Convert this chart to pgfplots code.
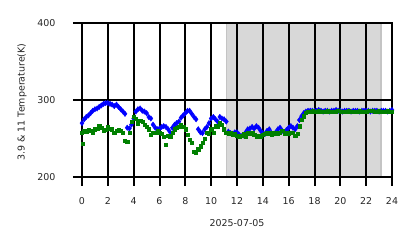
\documentclass[border=0pt]{standalone}
\usepackage{fontspec}
\setmainfont{DejaVu Sans}
\usepackage{pgfplots}
\usepackage{pgfplotstable}
\pgfplotsset{compat=1.18}
\definecolor{mgreen}{RGB}{0,128,0}
\definecolor{shade}{RGB}{216,216,216}
\definecolor{shadeedge}{RGB}{196,196,196}
\pgfplotstableread{
h T
0.0 270
0.17 275
0.33 278
0.5 280
0.67 283
0.83 286
1.0 288
1.17 289
1.33 291
1.5 293
1.67 295
1.83 296
2.0 296
2.17 295
2.33 294
2.5 292
2.67 294
2.83 291
3.0 288
3.17 285
3.33 282
3.5 264
3.67 263
3.83 268
4.0 276
4.17 285
4.33 288
4.5 289
4.67 286
4.83 285
5.0 283
5.17 278
5.33 276
5.5 268
5.67 264
5.83 262
6.0 263
6.17 265
6.33 266
6.5 265
6.67 262
6.83 258
7.0 264
7.17 268
7.33 270
7.5 272
7.67 277
7.83 280
8.0 283
8.17 286
8.33 286
8.5 282
8.67 278
8.83 275
9.0 262
9.17 258
9.33 257
9.5 262
9.67 265
9.83 270
10.0 276
10.17 278
10.33 275
10.5 272
10.67 278
10.83 276
11.0 275
11.17 272
11.33 259
11.5 257
11.67 256
11.83 258
12.0 258
12.17 255
12.33 253
12.5 254
12.67 258
12.83 262
13.0 263
13.17 265
13.33 263
13.5 266
13.67 264
13.83 260
14.0 257
14.17 256
14.33 260
14.5 262
14.67 257
14.83 256
15.0 258
15.17 262
15.33 264
15.5 260
15.67 258
15.83 261
16.0 264
16.17 266
16.33 264
16.5 262
16.67 266
16.83 274
17.0 279
17.17 283
17.33 285
17.5 286
17.67 286
17.83 286
18.0 286
18.17 286
18.33 287
18.5 286
18.67 285
18.83 286
19.0 286
19.17 285
19.33 286
19.5 286
19.67 287
19.83 286
20.0 286
20.17 285
20.33 286
20.5 286
20.67 286
20.83 285
21.0 286
21.17 286
21.33 286
21.5 285
21.67 286
21.83 286
22.0 286
22.17 286
22.33 285
22.5 286
22.67 286
22.83 286
23.0 285
23.17 286
23.33 286
23.5 286
23.67 285
23.83 286
24.0 287
}\bluedata
\pgfplotstableread{
h T
0.0 258
0.03 243
0.17 260
0.33 259
0.5 261
0.67 260
0.83 258
1.0 262
1.17 263
1.33 266
1.5 264
1.67 260
1.83 261
2.0 265
2.17 263
2.33 262
2.5 258
2.67 260
2.83 261
3.0 260
3.17 258
3.33 247
3.5 246
3.67 258
3.83 272
4.0 278
4.17 276
4.33 270
4.5 273
4.67 272
4.83 268
5.0 265
5.17 262
5.33 255
5.5 258
5.67 258
5.83 260
6.0 258
6.17 256
6.33 252
6.5 242
6.67 254
6.83 252
7.0 258
7.17 262
7.33 264
7.5 265
7.67 268
7.83 265
8.0 262
8.17 255
8.33 248
8.5 245
8.67 233
8.83 232
9.0 236
9.17 240
9.33 245
9.5 250
9.67 258
9.83 256
10.0 262
10.17 258
10.33 266
10.5 265
10.67 270
10.83 268
11.0 262
11.17 258
11.33 257
11.5 257
11.67 255
11.83 256
12.0 254
12.17 252
12.33 254
12.5 256
12.67 253
12.83 258
13.0 257
13.17 258
13.33 255
13.5 253
13.67 254
13.83 252
14.0 255
14.17 256
14.33 258
14.5 257
14.67 255
14.83 257
15.0 258
15.17 256
15.33 258
15.5 260
15.67 257
15.83 258
16.0 256
16.17 258
16.33 258
16.5 254
16.67 256
16.83 266
17.0 274
17.17 279
17.33 283
17.5 285
17.67 285
17.83 286
18.0 285
18.17 285
18.33 286
18.5 285
18.67 285
18.83 285
19.0 286
19.17 285
19.33 285
19.5 285
19.67 285
19.83 286
20.0 285
20.17 285
20.33 285
20.5 285
20.67 286
20.83 285
21.0 285
21.17 285
21.33 285
21.5 286
21.67 285
21.83 285
22.0 285
22.17 286
22.33 286
22.5 286
22.67 285
22.83 285
23.0 286
23.17 285
23.33 285
23.5 285
23.67 286
23.83 285
24.0 285
}\greendata
\begin{document}
\begin{tikzpicture}
\begin{axis}[
  set layers,
  at={(82bp,71bp)}, anchor=south west,
  scale only axis, width=310bp, height=154bp,
  xmin=0, xmax=24, ymin=200, ymax=400,
  xtick={0,2,...,24}, ytick={200,300,400},
  xtick pos=left, ytick pos=left,
  grid=major, major grid style={black, line width=2bp},
  axis line style={black, line width=2bp},
  tick style={black, line width=2bp},
  tick align=outside, major tick length=9bp,
  ticklabel style={font=\fontsize{9.5}{11}\selectfont, text=black!85},
  xticklabel style={yshift=-8bp},
  yticklabel style={xshift=-14bp},
  /pgf/number format/assume math mode=true,
]
\addplot[on layer=axis background, fill=shade, draw=shadeedge, line width=1.5bp] coordinates {(11.2,200) (23.15,200) (23.15,400) (11.2,400) (11.2,200)};
\addplot[only marks, mark=diamond*, mark size=2.7bp, color=blue, mark options={draw=blue, fill=blue}] table[x=h, y=T] {\bluedata};
\addplot[only marks, mark=square*, mark size=1.6bp, color=mgreen, mark options={draw=mgreen, fill=mgreen}] table[x=h, y=T] {\greendata};
\end{axis}
\node[font=\fontsize{9.5}{11}\selectfont, text=black!85] at (237bp,25bp) {2025-07-05};
\node[font=\fontsize{9.5}{11}\selectfont, text=black!85, rotate=90] at (22bp,146bp) {3.9 \& 11 Temperature(K)};
\path (0bp,0bp) rectangle (418bp,248bp);
\end{tikzpicture}
\end{document}
